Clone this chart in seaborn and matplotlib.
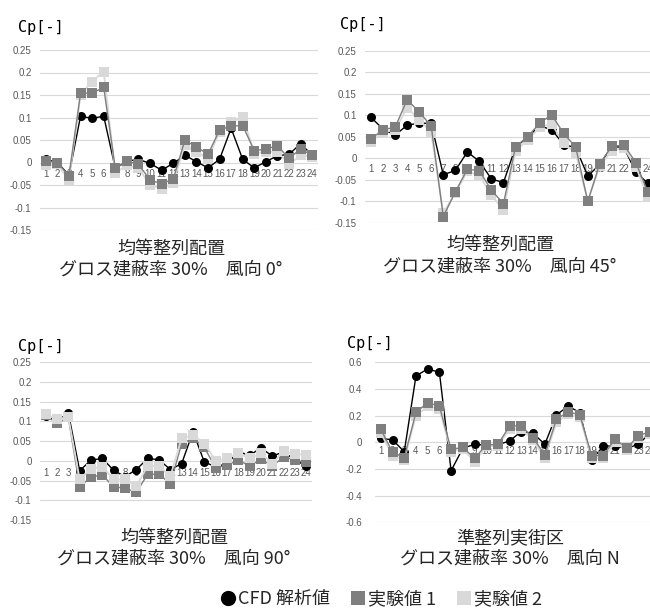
import matplotlib
matplotlib.use("Agg")
import matplotlib.pyplot as plt
from matplotlib.lines import Line2D
import pandas as pd
import seaborn as sns

# measurement points along the building perimeter
points = list(range(1, 25))

series_names = ["CFD 解析値", "実験値 1", "実験値 2"]
series_colors = ["#000000", "#7f7f7f", "#d9d9d9"]
series_markers = ["o", "s", "s"]

# uniform grid layout, wind direction 0 deg
cfd_0 = [0.007, 0.0, -0.028, 0.103, 0.098, 0.103, -0.013, 0.003, 0.007, -0.002, -0.017, -0.002,
         0.016, 0.002, -0.012, 0.007, 0.076, 0.007, -0.012, 0.002, 0.015, 0.018, 0.042, 0.016]
exp1_0 = [0.003, 0.0, -0.03, 0.154, 0.154, 0.167, -0.013, 0.003, -0.004, -0.039, -0.047, -0.037,
          0.049, 0.035, 0.018, 0.072, 0.081, 0.082, 0.026, 0.03, 0.037, 0.009, 0.03, 0.016]
exp2_0 = [-0.006, -0.004, -0.039, 0.15, 0.18, 0.202, -0.024, -0.006, -0.013, -0.049, -0.058, -0.045,
          0.039, 0.024, 0.009, 0.068, 0.089, 0.102, 0.02, 0.024, 0.024, -0.004, 0.016, 0.013]

# uniform grid layout, wind direction 45 deg
cfd_45 = [0.095, 0.068, 0.054, 0.077, 0.082, 0.081, -0.038, -0.028, 0.015, -0.007, -0.048, -0.056,
          0.026, 0.049, 0.075, 0.067, 0.032, 0.025, -0.041, -0.014, 0.028, 0.025, -0.032, -0.058]
exp1_45 = [0.045, 0.067, 0.072, 0.136, 0.108, 0.075, -0.135, -0.078, -0.025, -0.029, -0.074, -0.105,
           0.027, 0.05, 0.082, 0.101, 0.058, 0.026, -0.1, -0.012, 0.028, 0.031, -0.01, -0.079]
exp2_45 = [0.038, 0.062, 0.065, 0.118, 0.09, 0.06, -0.127, -0.08, -0.03, -0.04, -0.085, -0.12,
           0.018, 0.042, 0.072, 0.08, 0.035, 0.012, -0.098, -0.018, 0.018, 0.024, -0.02, -0.09]

# uniform grid layout, wind direction 90 deg
cfd_90 = [0.115, 0.1, 0.122, -0.025, 0.002, 0.006, -0.024, -0.04, -0.022, 0.006, 0.003, -0.022,
          -0.007, 0.074, -0.003, -0.015, -0.007, 0.023, 0.014, 0.033, 0.012, 0.023, 0.002, -0.013]
exp1_90 = [0.116, 0.095, 0.11, -0.066, -0.041, -0.036, -0.066, -0.069, -0.08, -0.034, -0.034, -0.058,
           0.044, 0.057, 0.034, -0.018, -0.011, 0.002, -0.013, 0.004, -0.013, 0.01, 0.002, -0.004]
exp2_90 = [0.119, 0.105, 0.112, -0.047, -0.02, -0.015, -0.047, -0.047, -0.064, -0.013, -0.013, -0.039,
           0.057, 0.065, 0.044, 0.0, 0.006, 0.019, 0.006, 0.019, -0.007, 0.025, 0.017, 0.016]

# semi-regular real district, wind from north
cfd_n = [0.03, 0.018, -0.07, 0.498, 0.55, 0.525, -0.213, -0.045, -0.015, -0.022, -0.02, 0.012,
         0.08, 0.068, -0.015, 0.205, 0.272, 0.222, -0.133, -0.028, -0.028, -0.045, -0.015, 0.07]
exp1_n = [0.097, -0.075, -0.115, 0.225, 0.297, 0.272, -0.053, -0.038, -0.12, -0.02, -0.015, 0.122,
          0.122, 0.035, -0.095, 0.172, 0.23, 0.205, -0.1, -0.1, 0.025, -0.045, 0.05, 0.08]
exp2_n = [0.07, -0.1, -0.13, 0.2, 0.27, 0.25, -0.07, -0.05, -0.145, -0.03, -0.025, 0.1,
          0.1, 0.015, -0.12, 0.15, 0.21, 0.19, -0.12, -0.12, 0.0, -0.06, 0.03, 0.06]

ticks_small = [-0.15, -0.1, -0.05, 0, 0.05, 0.1, 0.15, 0.2, 0.25]
ticks_n = [-0.6, -0.4, -0.2, 0, 0.2, 0.4, 0.6]

titles = [
    ("均等整列配置", "グロス建蔽率 30%\u3000風向 0°"),
    ("均等整列配置", "グロス建蔽率 30%\u3000風向 45°"),
    ("均等整列配置", "グロス建蔽率 30%\u3000風向 90°"),
    ("準整列実街区", "グロス建蔽率 30%\u3000風向 N"),
]

sns.set_style("white")
plt.rcParams["font.family"] = ["Noto Sans CJK JP", "DejaVu Sans"]
plt.rcParams["axes.unicode_minus"] = False

W, H = 650, 614
fig = plt.figure(figsize=(W / 100, H / 100), dpi=100)


def px_axes(x0, x1, ytop, ybot):
    return fig.add_axes([x0 / W, 1 - ybot / H, (x1 - x0) / W, (ybot - ytop) / H])


panels = [
    dict(rect=(40, 318, 50, 230), ticks=ticks_small, data=(cfd_0, exp1_0, exp2_0),
         light_on_top=False, xpad=5, ypad=6, cp=(18, 32), title=(171, 249, 269)),
    dict(rect=(365, 654, 50.7, 223), ticks=ticks_small, data=(cfd_45, exp1_45, exp2_45),
         light_on_top=False, xpad=4, ypad=6, cp=(340, 29), title=(500, 245, 266)),
    dict(rect=(40, 312, 362.3, 520), ticks=ticks_small, data=(cfd_90, exp1_90, exp2_90),
         light_on_top=True, xpad=5, ypad=6, cp=(18, 351), title=(174, 538, 558)),
    dict(rect=(375, 656, 362.3, 522.3), ticks=ticks_n, data=(cfd_n, exp1_n, exp2_n),
         light_on_top=False, xpad=3, ypad=9, cp=(347, 348), title=(510, 538, 558)),
]

for p in panels:
    ax = px_axes(*p["rect"])
    cfd, e1, e2 = p["data"]
    df = pd.DataFrame({
        "point": points * 3,
        "cp": cfd + e1 + e2,
        "series": [n for n in series_names for _ in points],
    })
    orders = [2, 3, 4] if p["light_on_top"] else [2, 4, 3]
    for name, color, marker, z in zip(series_names, series_colors, series_markers, orders):
        sub = df[df["series"] == name]
        sns.lineplot(data=sub, x="point", y="cp", ax=ax, color=color, marker=marker,
                     markersize=6.5 if marker == "o" else 7, markeredgewidth=0,
                     linewidth=1.0 if name != series_names[2] else 1.3,
                     errorbar=None, zorder=z, legend=False)

    ticks = p["ticks"]
    ax.set_xlim(0.5, 24.5)
    ax.set_ylim(ticks[0], ticks[-1])
    ax.set_yticks(ticks)
    ax.set_yticklabels([f"{t:g}" for t in ticks])
    ax.set_xticks(points)
    ax.set_xticklabels([str(i) for i in points])
    ax.set_xlabel("")
    ax.set_ylabel("")
    ax.set_axisbelow(True)
    ax.grid(axis="y", color="#d9d9d9", linewidth=0.8)
    ax.grid(axis="x", visible=False)
    for side in ["left", "right", "top"]:
        ax.spines[side].set_visible(False)
    ax.spines["bottom"].set_position(("data", 0))
    ax.spines["bottom"].set_visible(False)
    ax.tick_params(axis="both", length=0, labelsize=7, labelcolor="#595959")
    ax.tick_params(axis="x", pad=p["xpad"])
    ax.tick_params(axis="y", pad=p["ypad"])
    for lab in ax.get_xticklabels() + ax.get_yticklabels():
        lab.set_fontfamily("Liberation Sans")

    cx, cy = p["cp"]
    fig.text(cx / W, 1 - cy / H, "Cp[-]", family="DejaVu Sans Mono", fontsize=11,
             ha="left", va="baseline", color="#000000")
    tx, ty1, ty2 = p["title"]
    line1, line2 = titles[panels.index(p)]
    fig.text(tx / W, 1 - ty1 / H, line1, ha="center", va="center", fontsize=13)
    fig.text(tx / W, 1 - ty2 / H, line2, ha="center", va="center", fontsize=13)

handles = [
    Line2D([], [], linestyle="none", marker="o", markersize=11, color=series_colors[0], markeredgewidth=0),
    Line2D([], [], linestyle="none", marker="s", markersize=9.5, color=series_colors[1], markeredgewidth=0),
    Line2D([], [], linestyle="none", marker="s", markersize=9.5, color=series_colors[2], markeredgewidth=0),
]
fig.legend(handles, series_names, loc="center", bbox_to_anchor=(381 / W, 1 - 599 / H),
           ncol=3, frameon=False, fontsize=13, handletextpad=0.1, columnspacing=1.1,
           handlelength=0.9, borderpad=0, borderaxespad=0)

fig.savefig("out.png", dpi=100)
